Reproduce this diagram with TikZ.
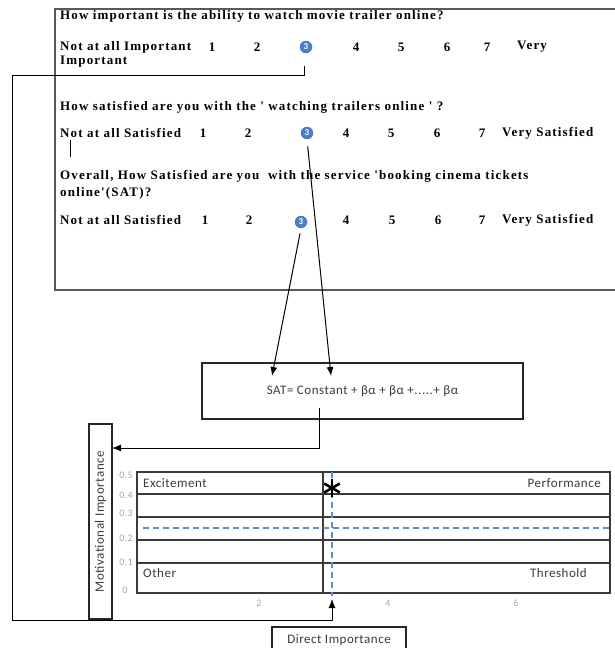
\documentclass[tikz,border=0pt]{standalone}
\usepackage{fontspec}
\setmainfont{Liberation Serif}
\newfontfamily\qfont[LetterSpace=9]{Liberation Serif}
\newfontfamily\chartfont[LetterSpace=4]{Carlito}
\usetikzlibrary{arrows.meta}
\definecolor{ansblue}{HTML}{4A7EC7}
\definecolor{dashblue}{HTML}{5B8FD0}
\definecolor{gridgray}{HTML}{3A3A3A}
\definecolor{tickgray}{HTML}{A6A6A6}

\begin{document}
\begin{tikzpicture}[x=1pt, y=-1pt,
    qtext/.style={anchor=west, inner sep=0pt, font=\qfont\bfseries\fontsize{13}{15}\selectfont},
    qnum/.style={qtext, anchor=center},
    answer/.style={circle, fill=ansblue, text=white, inner sep=0pt, minimum size=12.5pt,
        font=\chartfont\bfseries\fontsize{9}{9}\selectfont},
    conn/.style={draw=black, line width=1pt},
    tip/.style={-{Latex[length=9pt,width=7pt]}},
    ctext/.style={inner sep=0pt, text=gridgray, font=\chartfont\fontsize{13}{15}\selectfont},
    ticklbl/.style={inner sep=0pt, text=tickgray, font=\chartfont\fontsize{10}{12}\selectfont},
    gridline/.style={draw=gridgray, line width=1.2pt},
    axisbox/.style={draw=black!85, line width=2.2pt, inner sep=0pt, text=gridgray,
        font=\chartfont\fontsize{13}{15}\selectfont},
    guide/.style={draw=dashblue, line width=1.3pt, dash pattern=on 6pt off 4pt}]
    \useasboundingbox (0,0) rectangle (614,648);

    % questionnaire
    \draw[draw=black!65, line width=1.6pt] (55,9) rectangle (620,290);
    \node[qtext] (q1) at (60,16) {How important is the ability to watch movie trailer online?};
    \node[qtext] (r1) at (60,47) {Not at all Important};
    \foreach \n/\x in {1/212,2/257,4/356,5/401,6/447,7/487}
        \node[qnum] (r1n\n) at (\x,47) {\n};
    \node[qtext] (r1v) at (517,47) {Very};
    \node[qtext] (r1i) at (60,62) {Important};
    \node[answer] (c1) at (306,47) {3};

    \node[qtext] (q2) at (60,107) {How satisfied are you with the ' watching trailers online ' ?};
    \node[qtext] (r2) at (60,133) {Not at all Satisfied};
    \foreach \n/\x in {1/203,2/248,4/346,5/391,6/437,7/482}
        \node[qnum] (r2n\n) at (\x,133) {\n};
    \node[qtext] (r2v) at (502,133) {Very Satisfied};
    \node[answer] (c2) at (307,133) {3};

    \node[qtext] (q3a) at (60,176) {Overall, How Satisfied are you\ \ with the service 'booking cinema tickets};
    \node[qtext] (q3b) at (60,193) {online'(SAT)?};
    \node[qtext] (r3) at (60,220) {Not at all Satisfied};
    \foreach \n/\x in {1/205,2/249,4/346,5/392,6/438,7/482}
        \node[qnum] (r3n\n) at (\x,220) {\n};
    \node[qtext] (r3v) at (502,220) {Very Satisfied};
    \node[answer] (c3) at (301,222) {3};
    \draw[conn] (70,140) -- (70,157);

    % regression box
    \node[draw=black!85, line width=1.3pt, minimum width=321pt, minimum height=56pt,
        ctext] (sat) at (362.5,391) {SAT= Constant + βα + βα +.....+ βα};
    \coordinate (satin1) at (272,376);
    \coordinate (satin2) at (331,376);
    \coordinate (satout) at (319,408);

    % axis boxes
    \node[axisbox, rotate=90, minimum width=195pt, minimum height=23pt] (mot)
        at (100.5,521.5) {Motivational Importance};
    \node[axisbox, minimum width=134pt, minimum height=26pt] (dir)
        at (339,640) {Direct Importance};
    \coordinate (motin) at (112,448);
    \coordinate (dirin) at (332,599);

    % chart
    \draw[gridline] (137,472) rectangle (610,593);
    \foreach \y in {494,517,540,563}
        \draw[gridline] (137,\y) -- (610,\y);
    \draw[gridline] (323,472) -- (323,593);
    \node[ctext, anchor=west] (exc) at (143,483) {Excitement};
    \node[ctext, anchor=east] (perf) at (601,483) {Performance};
    \node[ctext, anchor=west] (oth) at (143,573) {Other};
    \node[ctext, anchor=east] (thr) at (587,573) {Threshold};
    \foreach \v/\y in {0.5/475,0.4/495,0.3/513,0.2/538,0.1/562}
        \node[ticklbl, anchor=east] at (133,\y) {\v};
    \node[ticklbl] (y0) at (125,590) {0};
    \foreach \v/\x in {2/259,4/388,6/516}
        \node[ticklbl] at (\x,603) {\v};
    \draw[guide] (332,472) -- (332,596);
    \draw[guide] (143,528) -- (610,528);
    \foreach \a in {90,30,-30}
        \draw[black, line width=2.6pt] (332,488) ++(\a:-9) -- ++(\a:18);

    % connectors
    \draw[conn, tip] (304,66) |- (12,75) |- (332,620) -- (dirin);
    \draw[conn, tip, shorten <=7pt] (c2.south) -- (satin2);
    \draw[conn, tip, shorten <=5pt] (c3.south) -- (satin1);
    \draw[conn, tip] (satout) |- (motin);
\end{tikzpicture}
\end{document}
